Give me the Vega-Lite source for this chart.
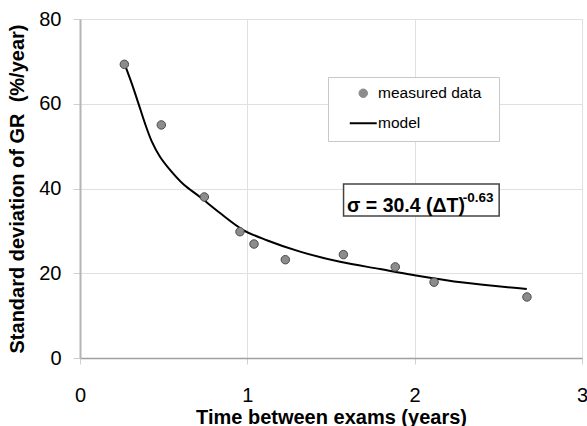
{
  "$schema": "https://vega.github.io/schema/vega-lite/v6.json",
  "width": 502,
  "height": 339,
  "autosize": {"type": "none"},
  "padding": {"left": 80, "top": 19, "right": 5, "bottom": 68},
  "background": "white",
  "config": {
    "view": {"stroke": "#c8c8c8", "strokeWidth": 1},
    "font": "Liberation Sans",
    "axis": {
      "labelFont": "Liberation Sans",
      "labelFontSize": 20,
      "labelColor": "#000000",
      "titleFont": "Liberation Sans",
      "titleFontSize": 20,
      "titleFontWeight": "bold",
      "titleColor": "#000000",
      "grid": true,
      "gridColor": "#e0e0e0",
      "gridWidth": 1,
      "tickColor": "#d0d0d0",
      "domainColor": "#a8a8a8",
      "domainWidth": 1.5
    }
  },
  "datasets": {
    "measured": [
      {"t": 0.265, "sd": 69.3, "series": "measured data"},
      {"t": 0.486, "sd": 55.0, "series": "measured data"},
      {"t": 0.743, "sd": 38.0, "series": "measured data"},
      {"t": 0.956, "sd": 29.8, "series": "measured data"},
      {"t": 1.040, "sd": 26.9, "series": "measured data"},
      {"t": 1.227, "sd": 23.2, "series": "measured data"},
      {"t": 1.574, "sd": 24.4, "series": "measured data"},
      {"t": 1.884, "sd": 21.5, "series": "measured data"},
      {"t": 2.116, "sd": 17.9, "series": "measured data"},
      {"t": 2.671, "sd": 14.4, "series": "measured data"}
    ],
    "model": [
      {"t": 0.269, "sd": 69.1, "series": "model"},
      {"t": 0.309, "sd": 64.8, "series": "model"},
      {"t": 0.349, "sd": 60.1, "series": "model"},
      {"t": 0.388, "sd": 55.4, "series": "model"},
      {"t": 0.428, "sd": 51.2, "series": "model"},
      {"t": 0.478, "sd": 47.5, "series": "model"},
      {"t": 0.538, "sd": 44.4, "series": "model"},
      {"t": 0.618, "sd": 41.0, "series": "model"},
      {"t": 0.717, "sd": 38.0, "series": "model"},
      {"t": 0.837, "sd": 34.2, "series": "model"},
      {"t": 0.976, "sd": 30.2, "series": "model"},
      {"t": 1.116, "sd": 27.8, "series": "model"},
      {"t": 1.315, "sd": 25.1, "series": "model"},
      {"t": 1.554, "sd": 22.7, "series": "model"},
      {"t": 1.793, "sd": 21.0, "series": "model"},
      {"t": 1.992, "sd": 19.6, "series": "model"},
      {"t": 2.291, "sd": 17.8, "series": "model"},
      {"t": 2.670, "sd": 16.3, "series": "model"}
    ],
    "note": [
      {"main": "σ = 30.4 (ΔT)", "sup": "-0.63"}
    ]
  },
  "layer": [
    {
      "data": {"name": "model"},
      "mark": {"type": "line", "strokeWidth": 2, "interpolate": "catmull-rom"},
      "encoding": {
        "x": {
          "field": "t",
          "type": "quantitative",
          "scale": {"domain": [0, 3], "nice": false, "zero": true},
          "axis": {
            "title": "Time between exams (years)",
            "values": [0, 1, 2, 3],
            "format": "d",
            "tickSize": 6,
            "labelPadding": 21,
            "labelFlush": false,
            "titleY": 65,
            "titleBaseline": "alphabetic",
            "domainColor": "#a0a0a0"
          }
        },
        "y": {
          "field": "sd",
          "type": "quantitative",
          "scale": {"domain": [0, 80], "nice": false},
          "axis": {
            "title": "Standard deviation of GR \u00a0(%/year)",
            "values": [0, 20, 40, 60, 80],
            "format": "d",
            "tickSize": 7,
            "labelPadding": 12,
            "titleX": -62.5,
            "titleY": 169.5,
            "titleAngle": -90,
            "titleBaseline": "middle",
            "domainColor": "#b4b4b4",
            "domainWidth": 2
          }
        },
        "color": {
          "field": "series",
          "type": "nominal",
          "scale": {"domain": ["measured data", "model"], "range": ["#8c8c8c", "#000000"]},
          "legend": {
            "title": ".",
            "titleOrient": "right",
            "titleColor": "white",
            "titleFontSize": 8,
            "titlePadding": 6,
            "orient": "none",
            "legendX": 248,
            "legendY": 58,
            "padding": 8.5,
            "fillColor": "white",
            "strokeColor": "#c8c8c8",
            "labelFont": "Liberation Sans",
            "labelFontSize": 15.5,
            "labelColor": "#000000",
            "symbolSize": 729,
            "symbolOffset": 19,
            "labelOffset": 7,
            "rowPadding": 13,
            "encode": {
              "symbols": {
                "update": {
                  "shape": {"signal": "datum.value === 'model' ? 'stroke' : 'circle'"},
                  "size": {"signal": "datum.value === 'model' ? 729 : 72"},
                  "fill": {"signal": "datum.value === 'model' ? 'transparent' : '#8c8c8c'"},
                  "stroke": {"signal": "datum.value === 'model' ? '#000000' : '#4d4d4d'"},
                  "strokeWidth": {"signal": "datum.value === 'model' ? 2 : 1"},
                  "opacity": {"value": 1}
                }
              }
            }
          }
        }
      }
    },
    {
      "data": {"name": "measured"},
      "mark": {"type": "point", "filled": true, "size": 72, "stroke": "#4d4d4d", "strokeWidth": 1, "opacity": 1},
      "encoding": {
        "x": {"field": "t", "type": "quantitative"},
        "y": {"field": "sd", "type": "quantitative"},
        "color": {"field": "series", "type": "nominal"}
      }
    },
    {
      "data": {"name": "note"},
      "mark": {"type": "rect", "fill": "white", "stroke": "#444444", "strokeWidth": 1.5},
      "encoding": {
        "x": {"datum": 1.575, "type": "quantitative"},
        "x2": {"datum": 2.505},
        "y": {"datum": 41.06, "type": "quantitative"},
        "y2": {"datum": 33.5}
      }
    },
    {
      "data": {"name": "note"},
      "mark": {"type": "text", "align": "left", "baseline": "alphabetic", "font": "Liberation Sans", "fontWeight": "bold", "fontSize": 19.5, "color": "#000000"},
      "encoding": {
        "x": {"datum": 1.596, "type": "quantitative"},
        "y": {"datum": 34.4, "type": "quantitative"},
        "text": {"field": "main", "type": "nominal"}
      }
    },
    {
      "data": {"name": "note"},
      "mark": {"type": "text", "align": "left", "baseline": "alphabetic", "font": "Liberation Sans", "fontWeight": "bold", "fontSize": 13.5, "color": "#000000"},
      "encoding": {
        "x": {"datum": 2.287, "type": "quantitative"},
        "y": {"datum": 36.9, "type": "quantitative"},
        "text": {"field": "sup", "type": "nominal"}
      }
    }
  ]
}
